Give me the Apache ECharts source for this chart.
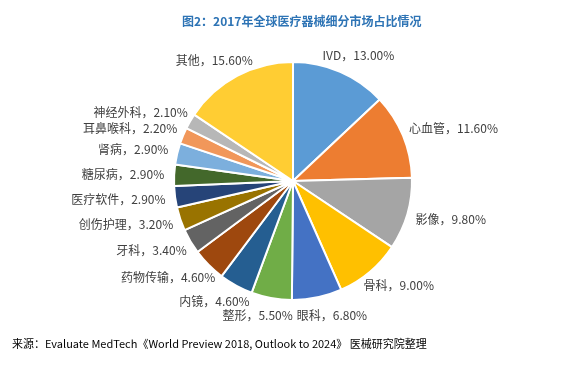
<!DOCTYPE html>
<html><head><meta charset="utf-8">
<script src="https://cdn.jsdelivr.net/npm/echarts@6/dist/echarts.min.js"></script>
<style>html,body{margin:0;padding:0;background:#fff}#c{width:579px;height:367px}</style>
</head><body><div id="c"></div>
<script>
var categories = ['IVD','心血管','影像','骨科','眼科','整形','内镜','药物传输','牙科','创伤护理','医疗软件','糖尿病','肾病','耳鼻喉科','神经外科','其他'];
var values = [13.0,11.6,9.8,9.0,6.8,5.5,4.6,4.6,3.4,3.2,2.9,2.9,2.9,2.2,2.1,15.6];
var colors = ['#5B9BD5','#ED7D31','#A5A5A5','#FFC000','#4472C4','#70AD47','#255E91','#9E480E','#636363','#997300','#264478','#43682B','#7CAFDD','#F1975A','#B7B7B7','#FFCD33'];
var titleText = '图2：2017年全球医疗器械细分市场占比情况';
var sourceText = '来源：Evaluate MedTech《World Preview 2018, Outlook to 2024》 医械研究院整理';

var CX = 293, CY = 181, R = 119, GAP = 10, FONT = '12px "Noto Sans CJK SC"', LH = 16;
var total = values.reduce(function(a,b){return a+b;},0);
function labelText(i){return categories[i]+'，'+values[i].toFixed(2)+'%';}

// label placement (Excel-like outside end), computed from data
var ctx = document.createElement('canvas').getContext('2d');
ctx.font = FONT;
var pos = [];
(function(){
  var s=0;
  for(var i=0;i<values.length;i++){
    var a=(s+values[i]/2)/total*2*Math.PI; s+=values[i];
    var dx=Math.sin(a), dy=-Math.cos(a);
    var w=ctx.measureText(labelText(i)).width, h=LH;
    pos.push({x:CX+dx*(R+GAP)+dx*w/2, y:CY+dy*(R+GAP)+dy*h/2, w:w, h:h});
  }
  for(var it=0;it<5;it++){
    for(var m=0;m<pos.length;m++)for(var n=m+1;n<pos.length;n++){
      var A=pos[m],B=pos[n];
      var ox=(A.w+B.w)/2+4-Math.abs(A.x-B.x);
      var oy=(A.h+B.h)/2-3-Math.abs(A.y-B.y);
      if(ox>0&&oy>0){
        var sgn=A.x<B.x?1:-1;
        A.x-=sgn*ox/2; B.x+=sgn*ox/2;
      }
    }
  }
})();

var chart = echarts.init(document.getElementById('c'));
chart.setOption({
  animation:false,
  title:{text:titleText,left:177,top:10,textStyle:{color:'#2E74B5',fontSize:12,fontWeight:'bold',fontFamily:'Noto Sans CJK SC'}},
  color:colors,
  series:[{
    type:'pie',
    center:[CX,CY],
    radius:R,
    startAngle:90,
    clockwise:true,
    avoidLabelOverlap:false,
    itemStyle:{borderColor:'#fff',borderWidth:2},
    label:{show:true,position:'outside',color:'#404040',fontSize:12,fontFamily:'Noto Sans CJK SC',
      formatter:function(p){return labelText(p.dataIndex);}},
    labelLine:{show:false},
    labelLayout:function(p){
      var q=pos[p.dataIndex];
      return {x:q.x,y:q.y,align:'center',verticalAlign:'middle'};
    },
    data:categories.map(function(c,i){return {name:c,value:values[i]};})
  }],
  graphic:[{type:'text',left:12,top:338,style:{text:sourceText,fill:'#000',fontSize:11,fontFamily:'Noto Sans CJK SC'}}]
});
</script></body></html>
